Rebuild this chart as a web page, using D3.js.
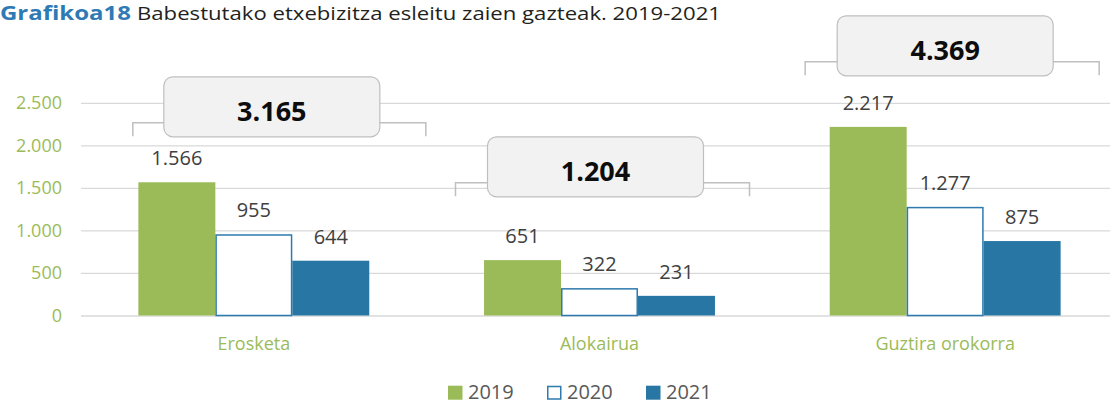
<!DOCTYPE html>
<html>
<head>
<meta charset="utf-8">
<script src="https://cdn.jsdelivr.net/npm/d3@7"></script>
<style>
  body { margin: 0; background: #fff; }
  svg { display: block; font-family: "Open Sans", sans-serif; }
</style>
</head>
<body>
<div id="chart"></div>
<script>
// chart data
const categories = ["Erosketa", "Alokairua", "Guztira orokorra"];
const years = ["2019", "2020", "2021"];
const values2019 = [1566, 651, 2217];
const values2020 = [955, 322, 1277];
const values2021 = [644, 231, 875];
const totals = [3165, 1204, 4369];
const yTicks = [0, 500, 1000, 1500, 2000, 2500];

// where the total callouts sit (data units for level, px offsets from group centre)
const bracketLevel = [2265, 1560, 2982];
const bracketLeft = [-121, -144, -140];
const bracketRight = [172, 150, 154];
const boxShift = [18, -4, 0];

const width = 1110, height = 404;
const fmt = d3.formatLocale({decimal: ",", thousands: ".", grouping: [3]}).format(",d");

const green = "#9BBB59", blue = "#2776A3";
const fills = [green, "#ffffff", blue];
const strokes = [green, "#2E79AE", blue];

let svg = d3.select("#chart")
    .append("svg")
    .attr("width", width)
    .attr("height", height);

let series = [values2019, values2020, values2021];
let data = categories.map(function(c, i) {
  return {cat: c, vals: years.map(function(y, j) { return {year: y, idx: j, value: series[j][i]}; })};
});

let y = d3.scaleLinear().domain([0, 2500]).range([315.5, 102.8]);

let x0 = d3.scaleBand()
    .domain(categories)
    .range([81, 1118])
    .paddingInner(0.332)
    .paddingOuter(0.166);

let x1 = d3.scaleBand()
    .domain(years)
    .range([0, x0.bandwidth()]);

// gridlines + y labels
let yAxis = svg.append("g")
    .attr("transform", "translate(81,0)")
    .call(d3.axisLeft(y).tickValues(yTicks).tickSize(-(width - 81)).tickPadding(19).tickFormat(fmt));
yAxis.select(".domain").remove();
yAxis.selectAll(".tick line").attr("stroke", "#D9D9D9").attr("stroke-width", 1.3);
yAxis.selectAll(".tick text")
    .attr("fill", green)
    .style("font-size", "18px")
    .style("font-family", "Open Sans");

// bars
let groups = svg.selectAll(".grp")
    .data(data)
    .enter()
    .append("g")
    .attr("class", "grp")
    .attr("transform", function(d) { return `translate(${x0(d.cat)},0)`; });

groups.selectAll("rect")
    .data(function(d) { return d.vals; })
    .enter()
    .append("rect")
    .attr("x", function(d) { return x1(d.year) + (d.idx == 1 ? 0.75 : 0); })
    .attr("y", function(d) { return y(d.value) + (d.idx == 1 ? 0.75 : 0); })
    .attr("width", function(d) { return x1.bandwidth() - (d.idx == 1 ? 1.5 : 0); })
    .attr("height", function(d) { return y(0) - y(d.value) - (d.idx == 1 ? 0.75 : 0); })
    .attr("fill", function(d) { return fills[d.idx]; })
    .attr("stroke", function(d) { return d.idx == 1 ? strokes[1] : "none"; })
    .attr("stroke-width", 1.5);

groups.selectAll(".val")
    .data(function(d) { return d.vals; })
    .enter()
    .append("text")
    .attr("class", "val")
    .attr("x", function(d) { return x1(d.year) + x1.bandwidth() / 2; })
    .attr("y", function(d) { return y(d.value) - 17; })
    .attr("text-anchor", "middle")
    .attr("fill", "#404040")
    .style("font-size", "20px")
    .text(function(d) { return fmt(d.value); });

// category labels
svg.selectAll(".cat")
    .data(categories)
    .enter()
    .append("text")
    .attr("class", "cat")
    .attr("x", function(d) { return x0(d) + x0.bandwidth() / 2; })
    .attr("y", 350)
    .attr("text-anchor", "middle")
    .attr("fill", green)
    .style("font-size", "18px")
    .text(function(d) { return d; });

// total callouts: bracket + rounded box
categories.forEach(function(c, i) {
  let cx = x0(c) + x0.bandwidth() / 2;
  let by = y(bracketLevel[i]);
  let x1b = cx + bracketLeft[i], x2b = cx + bracketRight[i];
  svg.append("path")
      .attr("d", `M${x1b},${by + 13.5}V${by}H${x2b}V${by + 13.5}`)
      .attr("fill", "none")
      .attr("stroke", "#BFBFBF")
      .attr("stroke-width", 1.5);

  let bw = 216, bh = 60;
  let bx = cx + boxShift[i] - bw / 2;
  let bTop = by + 14 - bh;
  svg.append("rect")
      .attr("x", bx)
      .attr("y", bTop)
      .attr("width", bw)
      .attr("height", bh)
      .attr("rx", 9)
      .attr("fill", "#F2F2F2")
      .attr("stroke", "#BFBFBF")
      .attr("stroke-width", 1.2);

  svg.append("text")
      .attr("x", bx + bw / 2)
      .attr("y", bTop + bh / 2 + 14)
      .attr("text-anchor", "middle")
      .attr("fill", "#0D0D0D")
      .style("font-size", "27px")
      .style("font-weight", "bold")
      .text(fmt(totals[i]));
});

// legend
let legendX = [448, 547, 646];
let legend = svg.selectAll(".leg")
    .data(years)
    .enter()
    .append("g")
    .attr("class", "leg")
    .attr("transform", function(d, i) { return `translate(${legendX[i]},0)`; });

legend.append("rect")
    .attr("x", function(d, i) { return i == 1 ? 0.75 : 0; })
    .attr("y", function(d, i) { return i == 1 ? 386.5 : 385.7; })
    .attr("width", function(d, i) { return i == 1 ? 13 : 14.5; })
    .attr("height", function(d, i) { return i == 1 ? 12.5 : 14; })
    .attr("fill", function(d, i) { return fills[i]; })
    .attr("stroke", function(d, i) { return i == 1 ? strokes[1] : "none"; })
    .attr("stroke-width", 1.5);

legend.append("text")
    .attr("x", 20)
    .attr("y", 399)
    .attr("fill", "#595959")
    .style("font-size", "20px")
    .text(function(d) { return d; });

// title
svg.append("text")
    .attr("x", 0)
    .attr("y", 20)
    .attr("fill", "#2E7AB5")
    .style("font-size", "19px")
    .style("font-weight", "bold")
    .attr("textLength", 131)
    .attr("lengthAdjust", "spacingAndGlyphs")
    .text("Grafikoa18");

svg.append("text")
    .attr("x", 137)
    .attr("y", 20)
    .attr("fill", "#231F20")
    .style("font-size", "19px")
    .attr("textLength", 584)
    .attr("lengthAdjust", "spacingAndGlyphs")
    .text("Babestutako etxebizitza esleitu zaien gazteak. 2019-2021");
</script>
</body>
</html>
